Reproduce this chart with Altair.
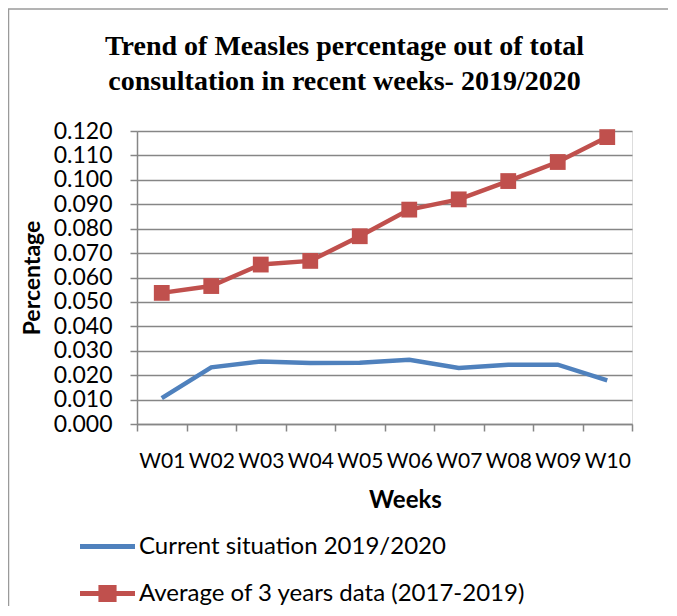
import altair as alt
import pandas as pd

weeks = ["W01", "W02", "W03", "W04", "W05", "W06", "W07", "W08", "W09", "W10"]
current = [0.0106, 0.0232, 0.0256, 0.0250, 0.0251, 0.0263, 0.0229, 0.0243, 0.0243, 0.0179]
average = [0.0537, 0.0565, 0.0653, 0.0668, 0.0769, 0.0878, 0.0920, 0.0995, 0.1073, 0.1175]
series_names = ["Current situation 2019/2020", "Average of 3 years data (2017-2019)"]
colors = ["#4F81BD", "#C0504D"]
y_ticks = [0.0, 0.01, 0.02, 0.03, 0.04, 0.05, 0.06, 0.07, 0.08, 0.09, 0.10, 0.11, 0.12]
title_lines = ["Trend of Measles percentage out of total",
               "consultation in recent weeks- 2019/2020"]

df = pd.DataFrame({
    "week": weeks * 2,
    "value": current + average,
    "series": [series_names[0]] * len(weeks) + [series_names[1]] * len(weeks),
})

GRID = "#868686"
LABEL_FONT = "Lato"

x_enc = alt.X(
    "week:N",
    sort=weeks,
    scale=alt.Scale(type="band", paddingInner=0, paddingOuter=0),
    axis=alt.Axis(
        title="Weeks", labelAngle=0, tickBand="extent", grid=False,
        labelFont=LABEL_FONT, labelFontSize=21, labelColor="black",
        labelPadding=19, labelOverlap=False,
        tickSize=7, tickColor=GRID, domainColor=GRID, domainWidth=1.5, tickWidth=1.5,
        titleFont=LABEL_FONT, titleFontSize=24, titleFontWeight="bold", titleColor="black",
        titlePadding=17, titleX=268,
    ),
)
y_enc = alt.Y(
    "value:Q",
    scale=alt.Scale(domain=[0, 0.12], nice=False, zero=True),
    axis=alt.Axis(
        title="Percentage", values=y_ticks, format=".3f",
        labelFont=LABEL_FONT, labelFontSize=23, labelColor="black", labelPadding=18,
        tickSize=7, tickColor=GRID, domainColor=GRID, domainWidth=1.5, tickWidth=1.5,
        gridColor=GRID, gridWidth=1.5,
        titleFont=LABEL_FONT, titleFontSize=23, titleFontWeight="bold", titleColor="black",
        titlePadding=9,
    ),
)

line_path = "M-1,-0.09L1,-0.09L1,0.09L-1,0.09Z"
square_path = line_path + "M-0.33,-0.31L0.33,-0.31L0.33,0.31L-0.33,0.31Z"

base = alt.Chart(df)

line_current = base.transform_filter(
    alt.datum.series == series_names[0]
).mark_line(strokeWidth=4.5, color=colors[0]).encode(x=x_enc, y=y_enc)

line_average = base.transform_filter(
    alt.datum.series == series_names[1]
).mark_line(strokeWidth=4.5, color=colors[1]).encode(x=x_enc, y=y_enc)

squares = base.transform_filter(
    alt.datum.series == series_names[1]
).mark_square(size=250, color=colors[1], opacity=1).encode(x=x_enc, y=y_enc)

leg = alt.Legend(
    title=None, orient="none", legendX=-57, legendY=388, direction="vertical",
    symbolSize=3025, symbolStrokeWidth=0, symbolOpacity=1,
    labelFont=LABEL_FONT, labelFontSize=24, labelColor="black", labelLimit=0,
    labelOffset=4, rowPadding=7,
)
legend_layer = base.transform_filter("false").mark_point(filled=True, opacity=1).encode(
    x=x_enc, y=y_enc,
    color=alt.Color("series:N", scale=alt.Scale(domain=series_names, range=colors), legend=leg),
    shape=alt.Shape("series:N", scale=alt.Scale(domain=series_names, range=[line_path, square_path]), legend=leg),
)

frame_data = alt.Data(values=[{}])
frame_left = alt.Chart(frame_data).mark_rule(color="#9a9a9a", strokeWidth=1.5).encode(
    x=alt.value(-128.5), y=alt.value(-122), y2=alt.value(500))
frame_top = alt.Chart(frame_data).mark_rule(color="#9a9a9a", strokeWidth=1.5).encode(
    x=alt.value(-129), x2=alt.value(540), y=alt.value(-122))

chart = alt.layer(line_current, line_average, squares, legend_layer, frame_left, frame_top).properties(
    width=495, height=293,
    padding={"left": 129, "top": 123, "right": 36, "bottom": 182},
    autosize=alt.AutoSizeParams(type="none"),
    title=alt.Title(
        text=title_lines, font="Liberation Serif", fontSize=28, fontWeight="bold",
        color="black", anchor="middle", dx=-40, lineHeight=35, offset=0, dy=88,
    ),
).configure_view(stroke=None).configure(background="white")

chart.save("out.html", embed_options={"renderer": "svg", "actions": False})
